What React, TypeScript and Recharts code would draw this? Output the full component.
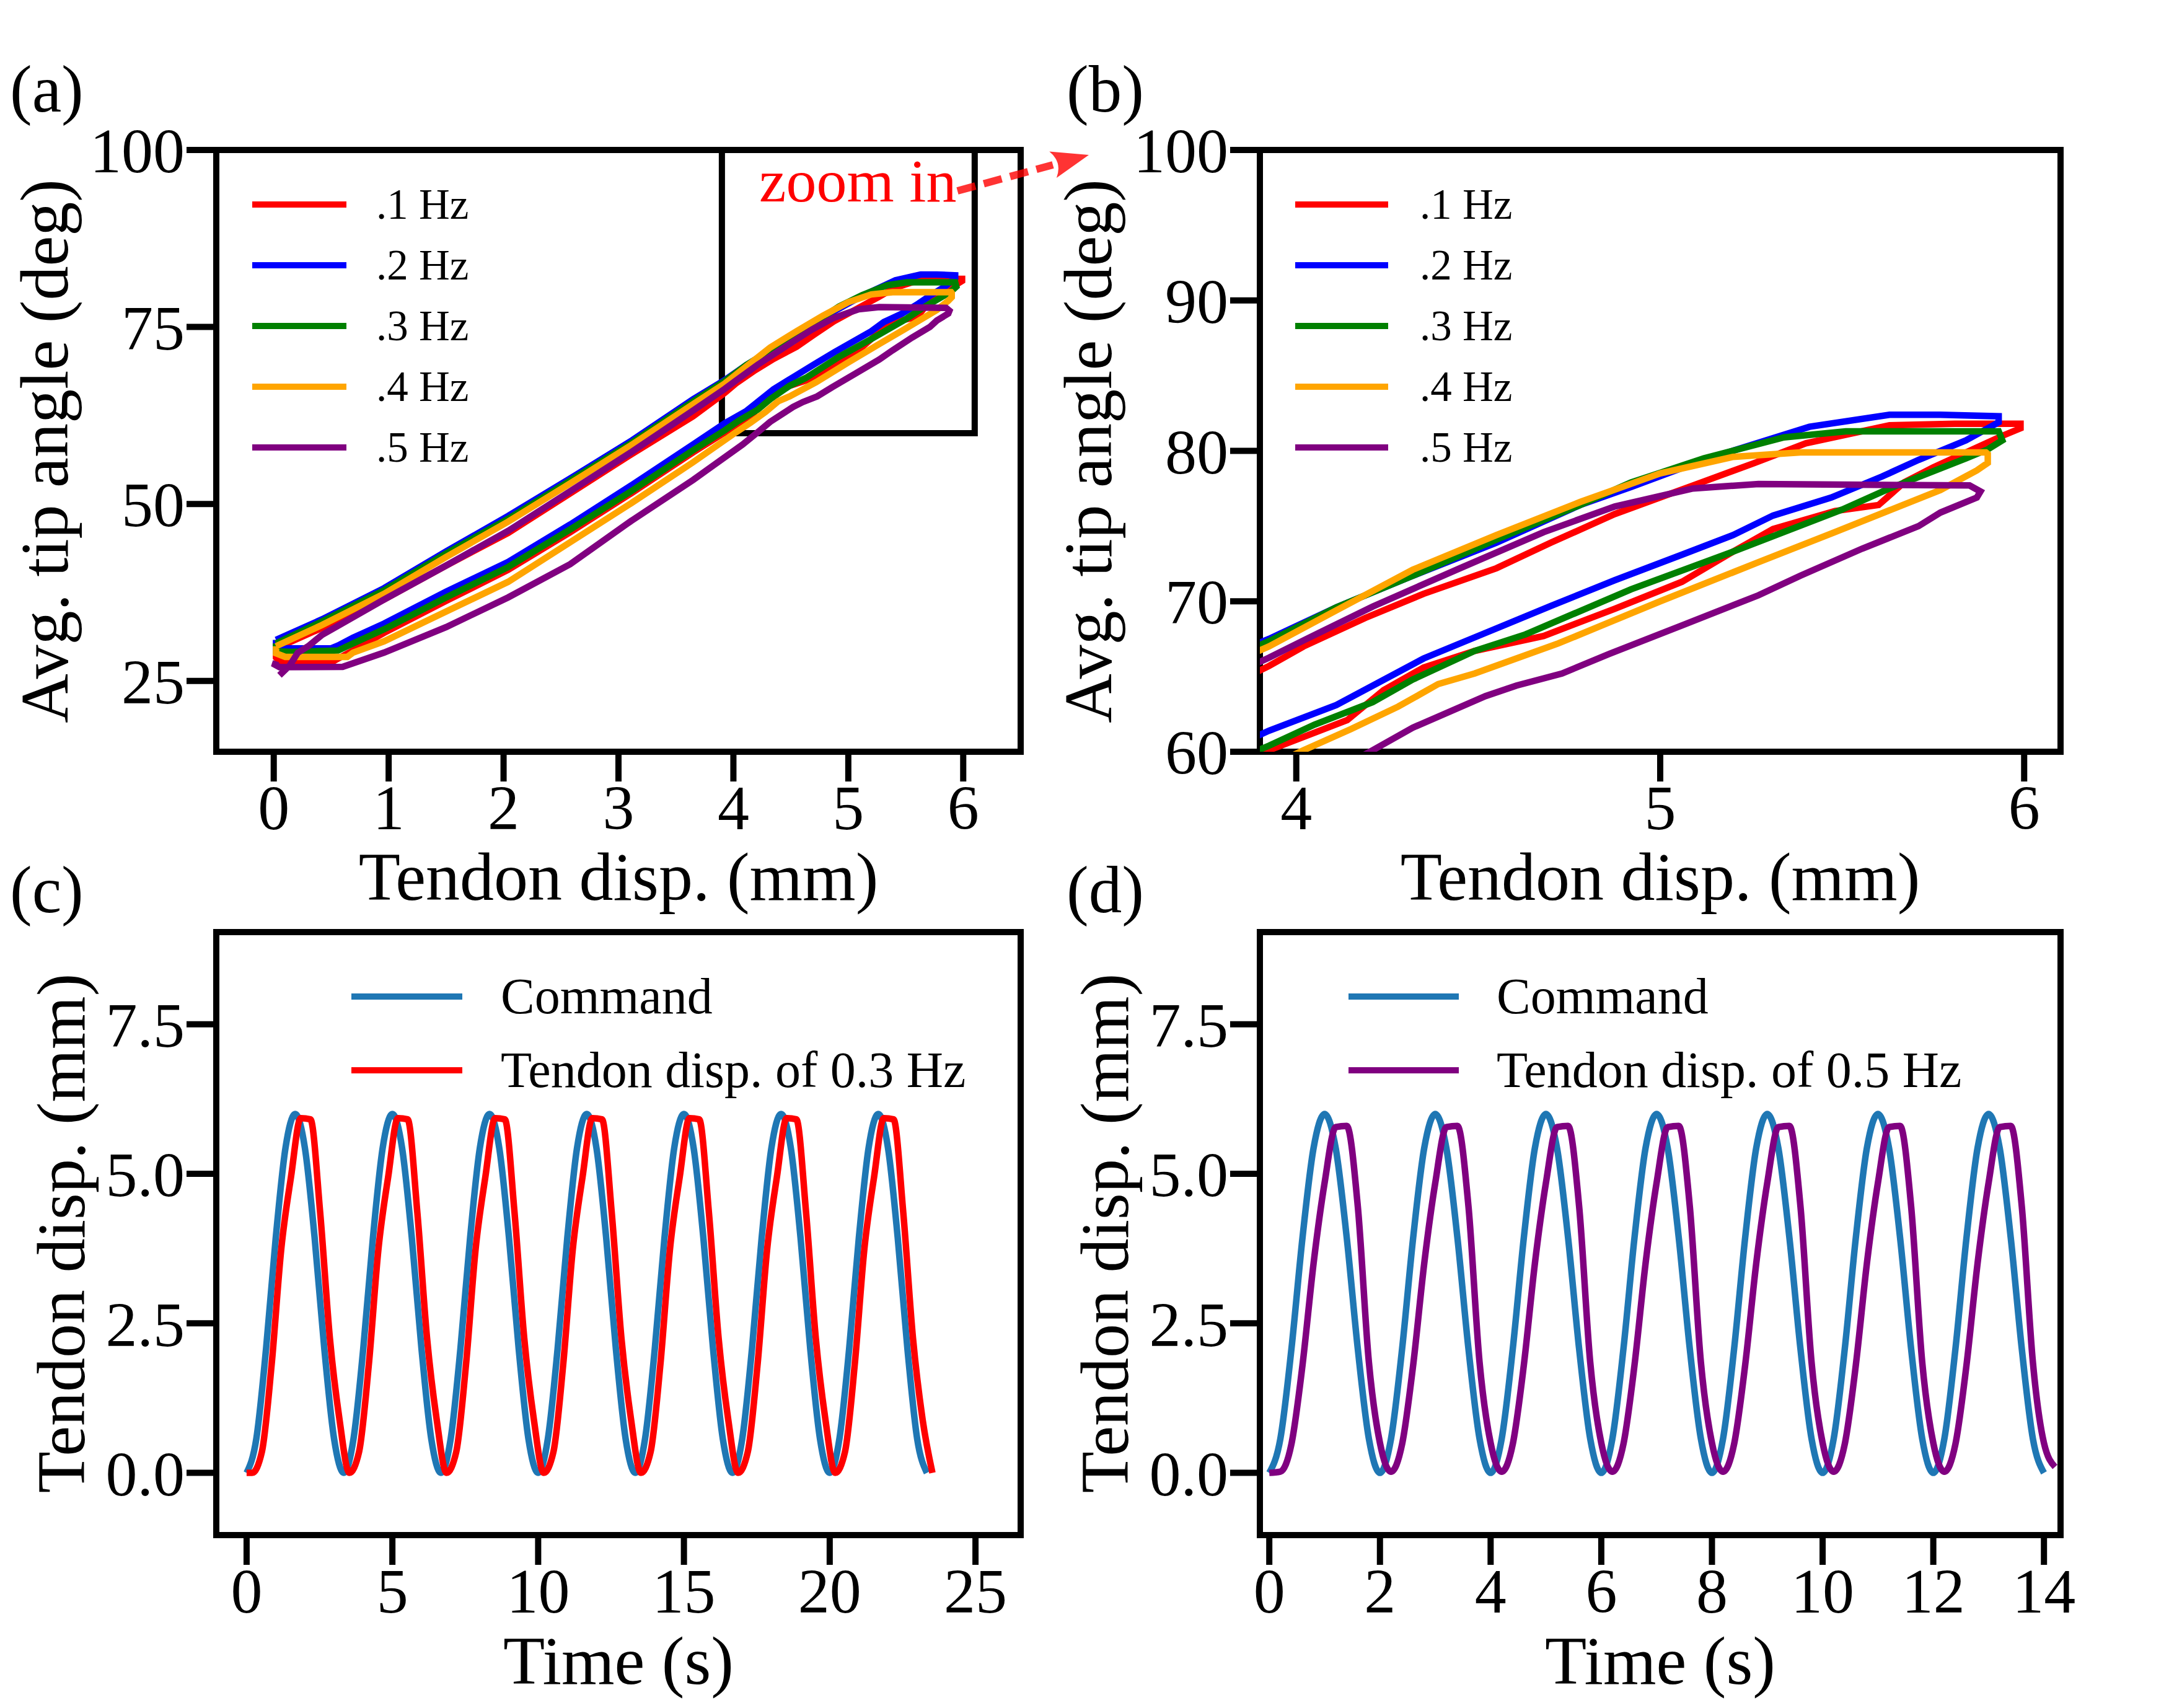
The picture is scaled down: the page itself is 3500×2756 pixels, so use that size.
import React from "react";
import { LineChart, Line, XAxis, YAxis, ReferenceArea, Legend } from "recharts";

const FONT = '"Liberation Serif", "Times New Roman", serif';

// (a)/(b) hysteresis loops: [tendon disp. (mm), avg. tip angle (deg)]
const loop01Hz: [number, number][] = [
  [0.02, 29.6], [0.42, 32.5], [0.96, 36.5], [1.5, 41.3], [2.04, 45.9], [2.58, 51.5], [3.11, 57.0],
  [3.65, 62.4], [3.925, 65.7], [4.02, 67.0], [4.19, 68.9], [4.35, 70.5], [4.55, 72.2], [4.7, 73.9],
  [4.875, 75.8], [5.09, 77.7], [5.26, 79.2], [5.4, 80.5], [5.63, 81.7], [5.81, 81.8], [5.99, 81.8],
  [5.99, 81.5], [5.94, 81.0], [5.75, 78.9], [5.67, 77.9], [5.6, 76.4], [5.48, 76.0], [5.31, 74.8],
  [5.2, 73.3], [5.06, 71.3], [4.875, 69.5], [4.68, 67.7], [4.49, 66.7], [4.35, 65.6], [4.24, 64.1],
  [4.14, 62.1], [3.925, 60.1], [3.65, 57.3], [3.11, 51.5], [2.58, 46.0], [2.04, 40.7], [1.5, 36.3],
  [0.96, 31.8], [0.7, 29.4], [0.52, 27.8], [0.05, 27.8], [0.02, 28.3], [0.02, 29.6],
];
const loop02Hz: [number, number][] = [
  [0.02, 30.8], [0.42, 33.7], [0.96, 38.1], [1.5, 43.3], [2.04, 48.3], [2.58, 53.6], [3.11, 58.9],
  [3.65, 64.8], [3.925, 67.5], [4.11, 69.6], [4.31, 71.6], [4.55, 73.9], [4.78, 76.4], [4.92, 77.6],
  [5.12, 79.4], [5.41, 81.6], [5.63, 82.4], [5.77, 82.4], [5.93, 82.3], [5.93, 81.9], [5.84, 80.7],
  [5.71, 79.4], [5.61, 78.3], [5.47, 76.9], [5.31, 75.7], [5.2, 74.4], [5.06, 73.1], [4.875, 71.4],
  [4.7, 69.7], [4.52, 67.9], [4.35, 66.2], [4.11, 63.1], [3.925, 61.4], [3.65, 58.4], [3.11, 52.6],
  [2.58, 47.1], [2.04, 41.8], [1.5, 37.6], [0.96, 33.1], [0.69, 31.1], [0.56, 30.0], [0.5, 29.6],
  [0.15, 29.6], [0.02, 29.7], [0.02, 30.8],
];
const loop03Hz: [number, number][] = [
  [0.02, 30.3], [0.42, 33.4], [0.96, 37.8], [1.5, 43.0], [2.04, 47.9], [2.58, 53.3], [3.11, 58.6],
  [3.65, 64.5], [3.925, 67.35], [4.11, 69.6], [4.35, 72.0], [4.55, 74.1], [4.78, 76.4], [4.92, 77.9],
  [5.12, 79.5], [5.34, 80.9], [5.51, 81.3], [5.93, 81.3], [5.94, 80.7], [5.9, 80.1], [5.84, 79.5],
  [5.63, 77.5], [5.5, 76.1], [5.2, 73.3], [4.92, 70.8], [4.63, 67.8], [4.49, 66.7], [4.32, 64.8],
  [4.21, 63.3], [4.05, 61.8], [3.925, 60.4], [3.65, 57.6], [3.11, 51.8], [2.58, 46.4], [2.04, 41.1],
  [1.5, 36.8], [0.96, 32.3], [0.69, 30.3], [0.56, 29.3], [0.15, 29.1], [0.02, 29.2], [0.02, 30.3],
];
const loop04Hz: [number, number][] = [
  [0.02, 29.9], [0.42, 32.9], [0.96, 37.3], [1.5, 42.5], [2.04, 47.5], [2.58, 52.9], [3.11, 58.3],
  [3.65, 64.1], [3.925, 67.0], [4.11, 69.4], [4.32, 72.1], [4.55, 74.4], [4.78, 76.6], [5.0, 78.5],
  [5.2, 79.6], [5.385, 79.9], [5.895, 79.9], [5.9, 79.8], [5.9, 79.2], [5.87, 78.7], [5.77, 77.4],
  [5.48, 74.6], [5.27, 72.6], [5.0, 70.0], [4.72, 67.2], [4.49, 65.2], [4.39, 64.5], [4.28, 63.0],
  [4.15, 61.5], [4.02, 60.1], [3.65, 55.9], [3.11, 50.1], [2.58, 44.6], [2.04, 39.0], [1.5, 34.8],
  [0.96, 30.6], [0.69, 29.0], [0.64, 28.4], [0.1, 28.4], [0.02, 28.9], [0.02, 29.9],
];
const loop05Hz: [number, number][] = [
  [0.05, 25.8], [0.14, 27.2], [0.21, 29.0], [0.3, 29.9], [0.42, 31.5], [0.96, 36.5], [1.5, 41.3],
  [2.04, 46.2], [2.58, 51.8], [3.11, 57.3], [3.65, 63.2], [3.925, 66.25], [4.02, 67.4], [4.21, 69.65],
  [4.45, 72.2], [4.68, 74.6], [4.875, 76.3], [5.09, 77.5], [5.27, 77.8], [5.85, 77.7], [5.88, 77.3],
  [5.87, 76.9], [5.77, 75.9], [5.71, 75.0], [5.555, 73.5], [5.385, 71.7], [5.27, 70.4], [5.06, 68.4],
  [4.86, 66.5], [4.73, 65.2], [4.605, 64.4], [4.52, 63.7], [4.32, 61.6], [4.21, 60.1], [4.08, 58.4],
  [3.65, 53.4], [3.11, 47.6], [2.58, 41.5], [2.04, 36.8], [1.5, 32.6], [0.96, 29.0], [0.69, 27.5],
  [0.6, 27.0], [0.05, 26.95], [0.01, 27.3], [0.02, 27.8],
];

const loopNames = [".1 Hz", ".2 Hz", ".3 Hz", ".4 Hz", ".5 Hz"];
const loopColors = ["#ff0000", "#0000ff", "#008000", "#ffa500", "#800080"];
const loops = [loop01Hz, loop02Hz, loop03Hz, loop04Hz, loop05Hz];

// (c) 0.3 Hz run, samples every 1/3 s
const stepC = 1 / 3;
const commandC = [
  0, 0.57, 2.07, 3.93, 5.43, 6.0, 5.43, 3.93, 2.07, 0.57,
  0, 0.57, 2.07, 3.93, 5.43, 6.0, 5.43, 3.93, 2.07, 0.57,
  0, 0.57, 2.07, 3.93, 5.43, 6.0, 5.43, 3.93, 2.07, 0.57,
  0, 0.57, 2.07, 3.93, 5.43, 6.0, 5.43, 3.93, 2.07, 0.57,
  0, 0.57, 2.07, 3.93, 5.43, 6.0, 5.43, 3.93, 2.07, 0.57,
  0, 0.57, 2.07, 3.93, 5.43, 6.0, 5.43, 3.93, 2.07, 0.57,
  0, 0.57, 2.07, 3.93, 5.43, 6.0, 5.43, 3.93, 2.07, 0.57,
  0,
];
// measured tendon: rest at t = 0, then samples from t = 0.19 s
const tendonStartC = 0.19;
const tendonC = [
  0, 0.35, 1.8, 3.75, 4.95, 5.93, 5.91, 4.35, 2.25, 0.88,
  0, 0.35, 1.8, 3.75, 4.95, 5.93, 5.91, 4.35, 2.25, 0.88,
  0, 0.35, 1.8, 3.75, 4.95, 5.93, 5.91, 4.35, 2.25, 0.88,
  0, 0.35, 1.8, 3.75, 4.95, 5.93, 5.91, 4.35, 2.25, 0.88,
  0, 0.35, 1.8, 3.75, 4.95, 5.93, 5.91, 4.35, 2.25, 0.88,
  0, 0.35, 1.8, 3.75, 4.95, 5.93, 5.91, 4.35, 2.25, 0.88,
  0, 0.35, 1.8, 3.75, 4.95, 5.93, 5.91, 4.35, 2.25, 0.88,
  0,
];

// (d) 0.5 Hz run, samples every 0.2 s
const stepD = 0.2;
const commandD = [
  0, 0.57, 2.07, 3.93, 5.43, 6.0, 5.43, 3.93, 2.07, 0.57,
  0, 0.57, 2.07, 3.93, 5.43, 6.0, 5.43, 3.93, 2.07, 0.57,
  0, 0.57, 2.07, 3.93, 5.43, 6.0, 5.43, 3.93, 2.07, 0.57,
  0, 0.57, 2.07, 3.93, 5.43, 6.0, 5.43, 3.93, 2.07, 0.57,
  0, 0.57, 2.07, 3.93, 5.43, 6.0, 5.43, 3.93, 2.07, 0.57,
  0, 0.57, 2.07, 3.93, 5.43, 6.0, 5.43, 3.93, 2.07, 0.57,
  0, 0.57, 2.07, 3.93, 5.43, 6.0, 5.43, 3.93, 2.07, 0.57,
  0,
];
const tendonStartD = 0.2;
const tendonD = [
  0.02, 0.48, 1.8, 3.5, 4.85, 5.78, 5.8, 4.45, 1.85, 0.5,
  0.02, 0.48, 1.8, 3.5, 4.85, 5.78, 5.8, 4.45, 1.85, 0.5,
  0.02, 0.48, 1.8, 3.5, 4.85, 5.78, 5.8, 4.45, 1.85, 0.5,
  0.02, 0.48, 1.8, 3.5, 4.85, 5.78, 5.8, 4.45, 1.85, 0.5,
  0.02, 0.48, 1.8, 3.5, 4.85, 5.78, 5.8, 4.45, 1.85, 0.5,
  0.02, 0.48, 1.8, 3.5, 4.85, 5.78, 5.8, 4.45, 1.85, 0.5,
  0.02, 0.48, 1.8, 3.5, 4.85, 5.78, 5.8, 4.45, 1.85, 0.5,
  0.1,
];

const toXY = (pts: [number, number][]) => pts.map(([x, y]) => ({ x, y }));
const sampled = (vals: number[], start: number, step: number) =>
  vals.map((v, i) => ({ x: start + i * step, y: v }));

const LINE_W = 10.5;
const tickStyle = { fill: "#000", fontSize: 102, fontFamily: FONT };
const tickLine = { stroke: "#000", strokeWidth: 10 };

function AxisTitle({ tx, ty, text, vertical }: { tx: number; ty: number; text: string; vertical?: boolean }) {
  return (
    <text
      x={tx}
      y={ty}
      textAnchor="middle"
      fontSize={110}
      fontFamily={FONT}
      fill="#000"
      transform={vertical ? `rotate(-90 ${tx} ${ty})` : undefined}
    >
      {text}
    </text>
  );
}

type LegendCfg = { left: number; top: number; w: number; h: number; x0: number; x1: number; tx: number; y0: number; gap: number; fs: number };

const makeLegend = (c: LegendCfg) => (props: any) => {
  const payload = props.payload || [];
  return (
    <svg width={c.w} height={c.h} style={{ display: "block", overflow: "visible" }}>
      {payload.map((p: any, i: number) => {
        const y = c.y0 + i * c.gap - c.top;
        return (
          <g key={p.value}>
            <line x1={c.x0 - c.left} x2={c.x1 - c.left} y1={y} y2={y} stroke={p.color} strokeWidth={10} />
            <text x={c.tx - c.left} y={y + c.fs * 0.33} fontSize={c.fs} fontFamily={FONT} fill="#000">
              {p.value}
            </text>
          </g>
        );
      })}
    </svg>
  );
};

const legendProps = { layout: "horizontal" as const, verticalAlign: "middle" as const, align: "center" as const };

// right-hand panels start at page x = 1600, left-hand ones at 0
function LoopChart({ zoomed }: { zoomed: boolean }) {
  const xDom: [number, number] = zoomed ? [3.9, 6.1] : [-0.5, 6.5];
  const yDom: [number, number] = zoomed ? [60, 100] : [15, 100];
  const width = zoomed ? 1900 : 1800;
  const yW = zoomed ? 433 : 349;
  const right = zoomed ? 175 : 153;
  const lg: LegendCfg = zoomed
    ? { left: 460, top: 270, w: 480, h: 520, x0: 490, x1: 640, tx: 691, y0: 330, gap: 98, fs: 69 }
    : { left: 380, top: 270, w: 480, h: 520, x0: 407, x1: 559, tx: 607, y0: 330, gap: 98, fs: 69 };
  return (
    <LineChart width={width} height={1480} margin={{ top: 242, right, bottom: 0, left: 0 }}>
      <XAxis
        dataKey="x"
        type="number"
        domain={xDom}
        ticks={zoomed ? [4, 5, 6] : [0, 1, 2, 3, 4, 5, 6]}
        allowDataOverflow
        interval={0}
        axisLine={false}
        tickLine={tickLine}
        tickSize={48}
        tickMargin={5}
        tick={tickStyle}
        height={267}
        label={<AxisTitle tx={zoomed ? 1079 : 998} ty={1452} text="Tendon disp. (mm)" />}
      />
      <YAxis
        type="number"
        domain={yDom}
        ticks={zoomed ? [60, 70, 80, 90, 100] : [25, 50, 75, 100]}
        allowDataOverflow
        interval={0}
        axisLine={false}
        tickLine={tickLine}
        tickSize={48}
        tickMargin={3}
        tick={tickStyle}
        width={yW}
        label={<AxisTitle tx={zoomed ? 193 : 109} ty={728} text="Avg. tip angle (deg)" vertical />}
      />
      {loops.map((pts, i) => (
        <Line
          key={loopNames[i]}
          name={loopNames[i]}
          data={toXY(pts)}
          dataKey="y"
          type="linear"
          stroke={loopColors[i]}
          strokeWidth={LINE_W}
          dot={false}
          activeDot={false}
          isAnimationActive={false}
        />
      ))}
      <ReferenceArea x1={xDom[0]} x2={xDom[1]} y1={yDom[0]} y2={yDom[1]} fill="none" stroke="#000" strokeWidth={10} ifOverflow="visible" />
      {!zoomed && (
        <ReferenceArea x1={3.9} x2={6.1} y1={60} y2={100} fill="none" stroke="#000" strokeWidth={10} ifOverflow="visible" />
      )}
      <Legend {...legendProps} content={makeLegend(lg)} wrapperStyle={{ left: lg.left, top: lg.top, width: lg.w, height: lg.h }} />
    </LineChart>
  );
}

function TimeChart({ fast }: { fast: boolean }) {
  const xDom: [number, number] = fast ? [-0.17, 14.3] : [-1.04, 26.55];
  const yDom: [number, number] = [-1.04, 9.04];
  const width = fast ? 1900 : 1800;
  const yW = fast ? 433 : 349;
  const right = fast ? 175 : 153;
  const cmd = fast ? sampled(commandD, 0, stepD) : sampled(commandC, 0, stepC);
  const tendon = fast
    ? [{ x: 0, y: 0 }, ...sampled(tendonD, tendonStartD, stepD)]
    : [{ x: 0, y: 0 }, ...sampled(tendonC, tendonStartC, stepC)];
  const lg: LegendCfg = fast
    ? { left: 550, top: 280, w: 900, h: 240, x0: 576, x1: 754, tx: 815, y0: 338, gap: 119, fs: 82 }
    : { left: 540, top: 280, w: 900, h: 240, x0: 567, x1: 746, tx: 808, y0: 338, gap: 119, fs: 82 };
  return (
    <LineChart width={width} height={1486} margin={{ top: 234, right, bottom: 0, left: 0 }}>
      <XAxis
        dataKey="x"
        type="number"
        domain={xDom}
        ticks={fast ? [0, 2, 4, 6, 8, 10, 12, 14] : [0, 5, 10, 15, 20, 25]}
        allowDataOverflow
        interval={0}
        axisLine={false}
        tickLine={tickLine}
        tickSize={48}
        tickMargin={5}
        tick={tickStyle}
        height={279}
        label={<AxisTitle tx={fast ? 1079 : 998} ty={1447} text="Time (s)" />}
      />
      <YAxis
        type="number"
        domain={yDom}
        ticks={[0, 2.5, 5, 7.5]}
        tickFormatter={(v: number) => v.toFixed(1)}
        allowDataOverflow
        interval={0}
        axisLine={false}
        tickLine={tickLine}
        tickSize={48}
        tickMargin={3}
        tick={tickStyle}
        width={yW}
        label={<AxisTitle tx={fast ? 220 : 136} ty={720} text="Tendon disp. (mm)" vertical />}
      />
      <Line
        name="Command"
        data={cmd}
        dataKey="y"
        type="monotone"
        stroke="#1f77b4"
        strokeWidth={LINE_W}
        dot={false}
        activeDot={false}
        isAnimationActive={false}
      />
      <Line
        name={fast ? "Tendon disp. of 0.5 Hz" : "Tendon disp. of 0.3 Hz"}
        data={tendon}
        dataKey="y"
        type="monotone"
        stroke={fast ? "#800080" : "#ff0000"}
        strokeWidth={LINE_W}
        dot={false}
        activeDot={false}
        isAnimationActive={false}
      />
      <ReferenceArea x1={xDom[0]} x2={xDom[1]} y1={yDom[0]} y2={yDom[1]} fill="none" stroke="#000" strokeWidth={10} ifOverflow="visible" />
      <Legend {...legendProps} content={makeLegend(lg)} wrapperStyle={{ left: lg.left, top: lg.top, width: lg.w, height: lg.h }} />
    </LineChart>
  );
}

export default function App() {
  const panel = (left: number, top: number): React.CSSProperties => ({ position: "absolute", left, top });
  return (
    <div style={{ position: "absolute", left: 0, top: 0, width: 3500, height: 2756, background: "#fff", fontFamily: FONT, overflow: "hidden" }}>
      <div style={panel(0, 0)}>
        <LoopChart zoomed={false} />
      </div>
      <div style={panel(1600, 0)}>
        <LoopChart zoomed />
      </div>
      <div style={panel(0, 1270)}>
        <TimeChart fast={false} />
      </div>
      <div style={panel(1600, 1270)}>
        <TimeChart fast />
      </div>
      <svg width={3500} height={2756} style={{ position: "absolute", left: 0, top: 0, pointerEvents: "none" }}>
        <g fontFamily={FONT} fontSize={107} fill="#000">
          <text x={16} y={180}>(a)</text>
          <text x={1721} y={180}>(b)</text>
          <text x={16} y={1472}>(c)</text>
          <text x={1721} y={1472}>(d)</text>
        </g>
        <text x={1225} y={325} fontFamily={FONT} fontSize={98} fill="#ff0000">zoom in</text>
        <line x1={1545} y1={308} x2={1699} y2={266} stroke="#ff0000" strokeOpacity={0.8} strokeWidth={12} strokeDasharray="30 14" />
        <path d="M1693.3,244.6 L1757,250 L1704.9,287 Q1714.5,261.6 1693.3,244.6 Z" fill="#ff0000" fillOpacity={0.8} />
      </svg>
    </div>
  );
}
